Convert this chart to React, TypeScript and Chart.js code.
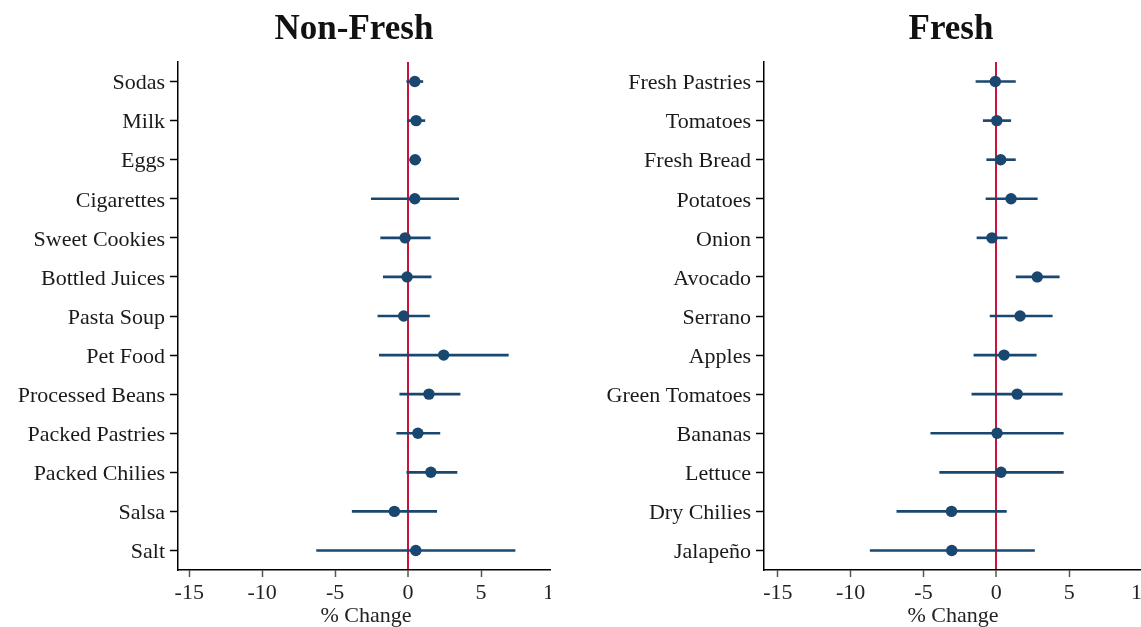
import React, { useEffect, useRef } from 'react';
import { Chart, registerables } from 'chart.js';

Chart.register(...registerables);

// ---------- data ----------
const nonFreshLabels = ['Sodas', 'Milk', 'Eggs', 'Cigarettes', 'Sweet Cookies', 'Bottled Juices', 'Pasta Soup', 'Pet Food', 'Processed Beans', 'Packed Pastries', 'Packed Chilies', 'Salsa', 'Salt'];
const nonFreshEst = [0.46, 0.55, 0.48, 0.46, -0.2, -0.07, -0.3, 2.44, 1.43, 0.67, 1.56, -0.94, 0.53];
const nonFreshLo = [-0.09, -0.04, 0.12, -2.52, -1.88, -1.7, -2.07, -1.97, -0.57, -0.78, -0.09, -3.83, -6.27];
const nonFreshHi = [1.01, 1.15, 0.87, 3.47, 1.52, 1.58, 1.47, 6.87, 3.56, 2.18, 3.35, 1.96, 7.33];

const freshLabels = ['Fresh Pastries', 'Tomatoes', 'Fresh Bread', 'Potatoes', 'Onion', 'Avocado', 'Serrano', 'Apples', 'Green Tomatoes', 'Bananas', 'Lettuce', 'Dry Chilies', 'Jalapeño'];
const freshEst = [-0.07, 0.03, 0.3, 1.01, -0.3, 2.81, 1.63, 0.53, 1.43, 0.05, 0.32, -3.08, -3.06];
const freshLo = [-1.4, -0.9, -0.66, -0.71, -1.33, 1.36, -0.43, -1.54, -1.68, -4.5, -3.89, -6.83, -8.66];
const freshHi = [1.31, 0.99, 1.31, 2.81, 0.74, 4.32, 3.84, 2.74, 4.53, 4.6, 4.6, 0.69, 2.62];

const xTickValues = [-15, -10, -5, 0, 5, 10];
const xAxisTitle = '% Change';

const NAVY = '#1a476f';
const RED = '#c8143c';
const FONT = '"Liberation Serif", "Times New Roman", serif';

type PanelProps = {
  title: string;
  labels: string[];
  est: number[];
  lo: number[];
  hi: number[];
  xMin: number;
  left: number;
  wrapWidth: number;
  canvasWidth: number;
  yAxisWidth: number;
  titleCenter: number;
};

function Panel(p: PanelProps) {
  const ref = useRef<HTMLCanvasElement | null>(null);

  useEffect(() => {
    if (!ref.current) return;
    const chart = new Chart(ref.current, {
      type: 'bar',
      data: {
        labels: p.labels,
        datasets: [
          {
            type: 'scatter',
            data: p.labels.map((l, i) => ({ x: p.est[i], y: l })),
            backgroundColor: NAVY,
            borderColor: NAVY,
            borderWidth: 0,
            pointRadius: 5.7,
            pointHoverRadius: 5.7,
            order: 0,
          } as any,
          {
            type: 'bar',
            data: p.labels.map((_, i) => [p.lo[i], p.hi[i]]),
            backgroundColor: NAVY,
            borderWidth: 0,
            barThickness: 2,
            order: 1,
          } as any,
        ],
      },
      options: {
        indexAxis: 'y',
        animation: false,
        responsive: false,
        maintainAspectRatio: false,
        layout: { padding: { top: 62, right: 12, bottom: 0, left: 0 } },
        plugins: {
          legend: { display: false },
          tooltip: { enabled: false },
          title: { display: false },
        },
        scales: {
          x: {
            type: 'linear',
            min: p.xMin,
            max: 10,
            afterBuildTicks: (s: any) => {
              s.ticks = xTickValues.map((v) => ({ value: v }));
            },
            afterFit: (s: any) => {
              s.height = 57;
            },
            grid: {
              drawOnChartArea: true,
              drawTicks: true,
              tickLength: 7,
              color: (ctx: any) => (ctx.tick && ctx.tick.value === 0 ? RED : 'rgba(0,0,0,0)'),
              lineWidth: (ctx: any) => (ctx.tick && ctx.tick.value === 0 ? 2 : 1),
              tickColor: (ctx: any) => (ctx.tick && ctx.tick.value === 10 ? 'rgba(0,0,0,0)' : '#555'),
              tickWidth: 1.5,
            },
            border: { display: true, color: '#000', width: 1.5 },
            ticks: {
              font: { family: FONT, size: 22 },
              color: '#222',
              padding: 3,
              maxRotation: 0,
              autoSkip: false,
            },
            title: {
              display: true,
              text: xAxisTitle,
              font: { family: FONT, size: 22, lineHeight: 0.95 },
              color: '#222',
              padding: { top: 0, bottom: 0 },
            },
          },
          y: {
            type: 'category',
            offset: true,
            afterFit: (s: any) => {
              s.width = p.yAxisWidth;
            },
            grid: {
              offset: false,
              drawOnChartArea: false,
              drawTicks: true,
              tickLength: 8,
              tickColor: '#000',
              tickWidth: 1.5,
            },
            border: { display: true, color: '#000', width: 1.5 },
            ticks: {
              font: { family: FONT, size: 22 },
              color: '#1a1a1a',
              padding: 5,
              labelOffset: 2,
              autoSkip: false,
            },
          },
        },
      } as any,
    });
    return () => chart.destroy();
  }, []);

  return (
    <>
      <div
        style={{
          position: 'absolute',
          left: p.left,
          top: 0,
          width: p.wrapWidth,
          height: 627,
          overflow: 'hidden',
        }}
      >
        <canvas ref={ref} width={p.canvasWidth} height={627} style={{ display: 'block' }} />
      </div>
      <div
        style={{
          position: 'absolute',
          left: p.titleCenter,
          top: 10,
          transform: 'translateX(-50%)',
          font: `bold 35px ${FONT}`,
          lineHeight: '35px',
          whiteSpace: 'nowrap',
          color: '#111',
        }}
      >
        {p.title}
      </div>
    </>
  );
}

export default function App() {
  return (
    <div style={{ position: 'absolute', left: 0, top: 0, width: 1141, height: 627, overflow: 'hidden', background: '#fff' }}>
      <Panel
        title="Non-Fresh"
        labels={nonFreshLabels}
        est={nonFreshEst}
        lo={nonFreshLo}
        hi={nonFreshHi}
        xMin={-15.77}
        left={0}
        wrapWidth={551}
        canvasWidth={568}
        yAxisWidth={178}
        titleCenter={354}
      />
      <Panel
        title="Fresh"
        labels={freshLabels}
        est={freshEst}
        lo={freshLo}
        hi={freshHi}
        xMin={-15.95}
        left={571}
        wrapWidth={570}
        canvasWidth={585}
        yAxisWidth={193}
        titleCenter={951}
      />
    </div>
  );
}
